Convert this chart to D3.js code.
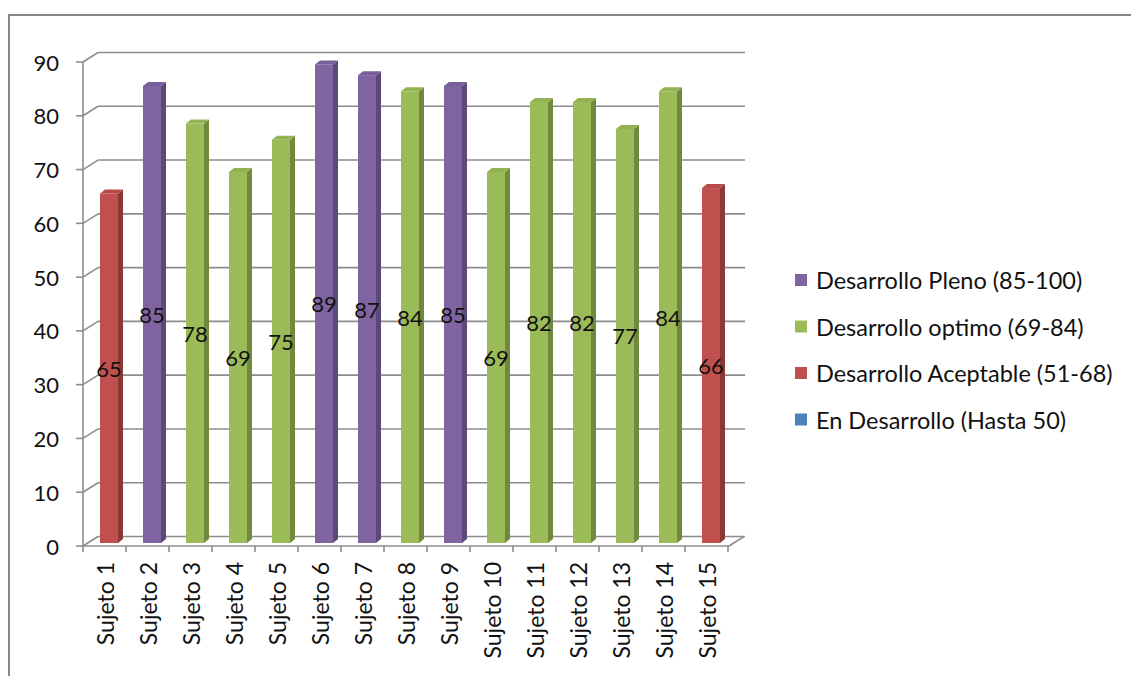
<!DOCTYPE html>
<html>
<head>
<meta charset="utf-8">
<script src="https://cdn.jsdelivr.net/npm/d3@7"></script>
<style>
  html, body { margin: 0; padding: 0; background: #fff; }
  svg { display: block; }
  text { font-family: Lato, "Open Sans", sans-serif; fill: #111; }
</style>
</head>
<body>
<svg id="chart" width="1131" height="676"></svg>
<script>
// Scores per subject
const categories = ["Sujeto 1","Sujeto 2","Sujeto 3","Sujeto 4","Sujeto 5","Sujeto 6","Sujeto 7","Sujeto 8",
                    "Sujeto 9","Sujeto 10","Sujeto 11","Sujeto 12","Sujeto 13","Sujeto 14","Sujeto 15"];
const values = [65, 85, 78, 69, 75, 89, 87, 84, 85, 69, 82, 82, 77, 84, 66];
const yTicks = [0, 10, 20, 30, 40, 50, 60, 70, 80, 90];

// Performance levels (legend order)
const levelNames = ["Desarrollo Pleno (85-100)", "Desarrollo optimo (69-84)",
                    "Desarrollo Aceptable (51-68)", "En Desarrollo (Hasta 50)"];
const levelMin = [85, 69, 51, 0];
const levelColors = ["#8064A2", "#9BBB59", "#C0504D", "#4F81BD"];
const levelSides  = ["#5D4978", "#6F8A3C", "#8C3836", "#37608F"];
const levelTops   = ["#7A5E9C", "#93B353", "#B84A47", "#4A7AB5"];

const svg = d3.select("#chart");

// Outer chart frame
svg.append("rect")
  .attr("x", 9).attr("y", 15).attr("width", 1140).attr("height", 700)
  .attr("fill", "#fff").attr("stroke", "#878787").attr("stroke-width", 2);

const x = d3.scaleBand().domain(categories).range([83, 728]);
const y = d3.scaleLinear().domain([0, 90]).range([546, 62]);

// Depth offsets of the back wall and of the bars
const wallDx = 15, wallDy = -9.5;
const barDx = 5, barDy = -4, barShift = -3;

const grid = svg.append("g").attr("stroke", "#8c8c8c").attr("stroke-width", 1.6).attr("fill", "none");

// Back-wall gridlines plus their side-wall diagonals
yTicks.forEach(t => {
  const yy = y(t);
  grid.append("line").attr("x1", 83 + wallDx).attr("x2", 730 + wallDx)
    .attr("y1", yy + wallDy).attr("y2", yy + wallDy);
  grid.append("line").attr("x1", 83).attr("y1", yy).attr("x2", 83 + wallDx).attr("y2", yy + wallDy);
});
// Floor front edge and right diagonal
grid.append("line").attr("x1", 83).attr("x2", 729).attr("y1", y(0)).attr("y2", y(0));
grid.append("line").attr("x1", 729).attr("y1", y(0)).attr("x2", 729 + wallDx).attr("y2", y(0) + wallDy);

// Vertical value axis with tick marks
const axisG = svg.append("g").attr("stroke", "#8c8c8c").attr("stroke-width", 1.6);
axisG.append("line").attr("x1", 83).attr("x2", 83).attr("y1", y(0)).attr("y2", y(90));
yTicks.forEach(t => {
  axisG.append("line").attr("x1", 76).attr("x2", 83).attr("y1", y(t)).attr("y2", y(t));
});
// Category tick marks
const catEdges = categories.map(c => x(c)).concat([x.range()[1]]);
catEdges.forEach(cx => {
  axisG.append("line").attr("x1", cx).attr("x2", cx).attr("y1", y(0)).attr("y2", y(0) + 6);
});

// Value labels
svg.append("g").selectAll("text").data(yTicks).join("text")
  .attr("x", 59).attr("y", d => y(d)).attr("text-anchor", "end")
  .attr("dominant-baseline", "central").attr("font-size", 22).text(d => d);

// Category labels, rotated
svg.append("g").selectAll("text").data(categories).join("text")
  .attr("transform", d => `translate(${x(d) + x.bandwidth() / 2},562) rotate(-90)`)
  .attr("text-anchor", "end").attr("dominant-baseline", "central")
  .attr("font-size", 23).text(d => d);

function levelOf(v) { return levelMin.findIndex(m => v >= m); }

// 3D columns
const bw = 18;
const bars = svg.append("g").selectAll("g").data(values.map((v, i) => ({ v, c: categories[i] }))).join("g");
bars.each(function(d) {
  const g = d3.select(this);
  const li = levelOf(d.v);
  const x0 = x(d.c) + 17, x1 = x0 + bw;
  const yb = y(0) + barShift, yt = y(d.v) + barShift;
  // side face
  g.append("path")
    .attr("d", `M${x1},${yb} L${x1 + barDx},${yb + barDy} L${x1 + barDx},${yt + barDy} L${x1},${yt} Z`)
    .attr("fill", levelSides[li]);
  // top face
  g.append("path")
    .attr("d", `M${x0},${yt} L${x0 + barDx},${yt + barDy} L${x1 + barDx},${yt + barDy} L${x1},${yt} Z`)
    .attr("fill", levelTops[li]);
  // front face
  g.append("rect").attr("x", x0).attr("y", yt).attr("width", bw).attr("height", yb - yt)
    .attr("fill", levelColors[li]);
  // value label at half height
  g.append("text")
    .attr("x", x0 + bw / 2).attr("y", (yb + yt) / 2)
    .attr("text-anchor", "middle").attr("dominant-baseline", "central")
    .attr("font-size", 22).text(d.v);
});

// Legend
const legend = svg.append("g").selectAll("g").data(levelNames).join("g")
  .attr("transform", (d, i) => `translate(795,${280 + i * 46.5})`);
legend.append("rect").attr("x", 0).attr("y", -6).attr("width", 12).attr("height", 12)
  .attr("fill", (d, i) => levelColors[i]);
legend.append("text").attr("x", 21).attr("y", 0).attr("dominant-baseline", "central")
  .attr("font-size", 23.5).text(d => d);
</script>
</body>
</html>
